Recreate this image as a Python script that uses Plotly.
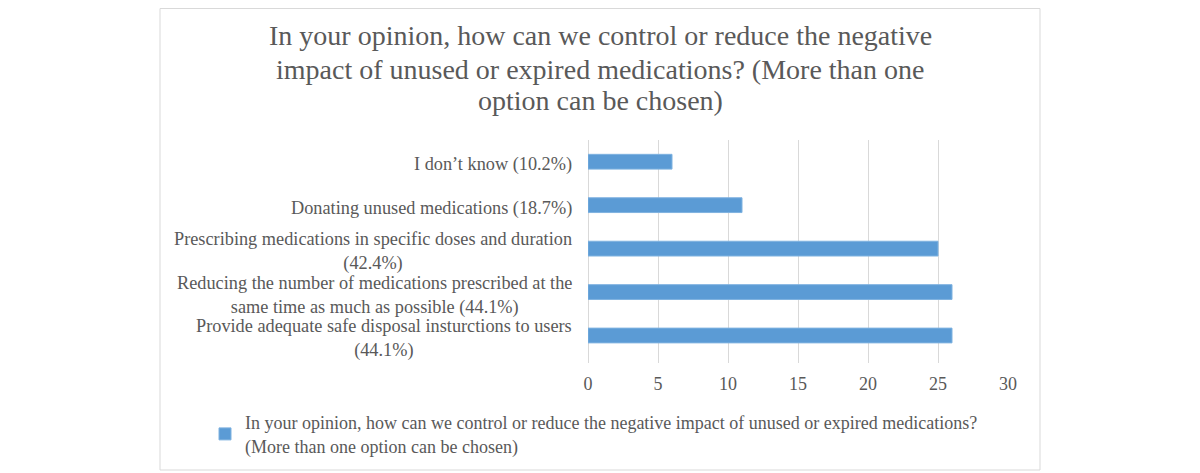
import plotly.graph_objects as go

categories = [
    "Provide adequate safe disposal insturctions to users<br>(44.1%)",
    "Reducing the number of medications prescribed at the<br>same time as much as possible (44.1%)",
    "Prescribing medications in specific doses and duration<br>(42.4%)",
    "Donating unused medications (18.7%)",
    "I don’t know (10.2%)",
]
values = [26, 26, 25, 11, 6]
series_name = ("In your opinion, how can we control or reduce the negative impact of unused or expired medications?"
               "<br>(More than one option can be chosen)")
title_lines = [
    "In your opinion, how can we control or reduce the negative",
    "impact of unused or expired medications? (More than one",
    "option can be chosen)",
]
x_ticks = [0, 5, 10, 15, 20, 25, 30]

FONT = "Liberation Serif, Times New Roman, serif"
GREY = "#595959"
OFF = 8  # page body offset

L, R, T, B = 588 - OFF, 1008 - OFF, 140 - OFF, 363 - OFF
PW, PH = R - L, B - T


def py(page_y):
    return (B - (page_y - OFF)) / PH


def px(page_x):
    return (page_x - OFF - L) / PW


fig = go.Figure()
fig.add_trace(go.Bar(
    y=categories, x=values, orientation="h", name=series_name,
    marker=dict(color="#5b9bd5", line=dict(color="#7fb2e0", width=1)),
    showlegend=True,
))

annotations = []
for c in categories:
    annotations.append(dict(
        x=0, xref="paper", y=c, yref="y", text=c, showarrow=False,
        xanchor="right", xshift=-14, align="center", yshift=-3,
        font=dict(family=FONT, size=18.3, color=GREY),
    ))
for line, yc in zip(title_lines, [35, 69, 101]):
    annotations.append(dict(
        x=px(600), xref="paper", y=py(yc), yref="paper", text=line, showarrow=False,
        xanchor="center", yanchor="middle",
        font=dict(family=FONT, size=28, color=GREY),
    ))

fig.update_layout(
    width=1200, height=473,
    margin=dict(l=L, r=1200 - R, t=T, b=473 - B),
    paper_bgcolor="white", plot_bgcolor="white",
    bargap=0.66,
    font=dict(family=FONT, size=18, color=GREY),
    xaxis=dict(range=[0, 30], tickvals=x_ticks, showgrid=True, gridcolor="#d9d9d9",
               gridwidth=1, zeroline=True, zerolinecolor="#d9d9d9", zerolinewidth=1,
               showline=False, ticks="", tickfont=dict(family=FONT, size=18, color=GREY),
               ticklabelstandoff=8, fixedrange=True),
    yaxis=dict(showticklabels=False, showgrid=False, zeroline=False, showline=False,
               ticks="", categoryorder="array", categoryarray=categories),
    legend=dict(orientation="h", x=px(205), xanchor="left",
                y=py(404), yanchor="top",
                font=dict(family=FONT, size=18, color=GREY), itemwidth=30,
                bgcolor="rgba(0,0,0,0)"),
    annotations=annotations,
    shapes=[dict(type="rect", xref="paper", yref="paper",
                 x0=px(160), x1=px(1040),
                 y0=py(470), y1=py(OFF + 0.5),
                 line=dict(color="#d9d9d9", width=1), fillcolor="rgba(0,0,0,0)", layer="below")],
)

fig.write_html("out.html")
